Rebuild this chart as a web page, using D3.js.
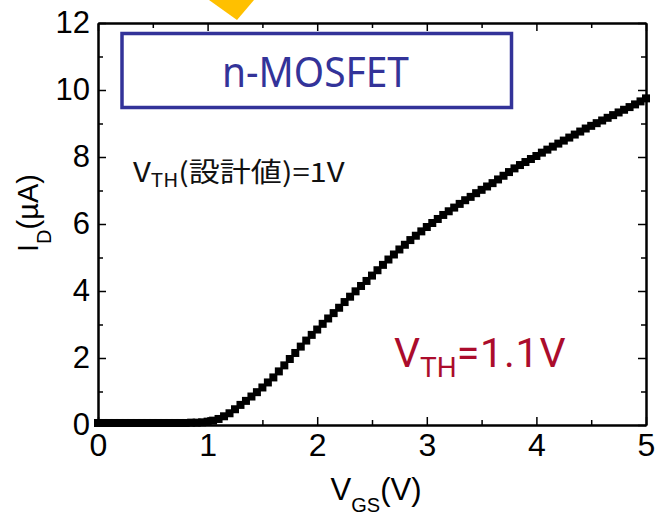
<!DOCTYPE html>
<html>
<head>
<meta charset="utf-8">
<script src="https://cdn.jsdelivr.net/npm/d3@7"></script>
<style>
  body { margin: 0; background: #fff; }
  .axis text { font-family: "Liberation Sans", Arial, sans-serif; fill: #000; }
</style>
</head>
<body>
<div id="chart"></div>
<script>
const vgs = [0.00,0.05,0.10,0.15,0.20,0.25,0.30,0.35,0.40,0.45,
             0.50,0.55,0.60,0.65,0.70,0.75,0.80,0.85,0.90,0.95,
             1.00,1.05,1.10,1.15,1.20,1.25,1.30,1.35,1.40,1.45,
             1.50,1.55,1.60,1.65,1.70,1.75,1.80,1.85,1.90,1.95,
             2.00,2.05,2.10,2.15,2.20,2.25,2.30,2.35,2.40,2.45,
             2.50,2.55,2.60,2.65,2.70,2.75,2.80,2.85,2.90,2.95,
             3.00,3.05,3.10,3.15,3.20,3.25,3.30,3.35,3.40,3.45,
             3.50,3.55,3.60,3.65,3.70,3.75,3.80,3.85,3.90,3.95,
             4.00,4.05,4.10,4.15,4.20,4.25,4.30,4.35,4.40,4.45,
             4.50,4.55,4.60,4.65,4.70,4.75,4.80,4.85,4.90,4.95,
             5.00];
const idUA = [0.06,0.06,0.06,0.06,0.06,0.06,0.06,0.06,0.06,0.06,
              0.06,0.06,0.06,0.06,0.06,0.06,0.06,0.07,0.07,0.08,
              0.10,0.13,0.18,0.26,0.35,0.47,0.60,0.72,0.85,0.98,
              1.12,1.27,1.42,1.60,1.78,1.97,2.15,2.34,2.52,2.69,
              2.85,3.02,3.18,3.34,3.50,3.67,3.83,3.99,4.15,4.30,
              4.46,4.62,4.78,4.94,5.09,5.24,5.38,5.52,5.65,5.78,
              5.91,6.03,6.15,6.27,6.38,6.49,6.60,6.71,6.81,6.92,
              7.02,7.12,7.22,7.33,7.44,7.55,7.66,7.76,7.85,7.94,
              8.03,8.13,8.22,8.31,8.40,8.49,8.58,8.67,8.76,8.85,
              8.93,9.01,9.09,9.17,9.25,9.33,9.41,9.49,9.57,9.66,
              9.75];

const xTicks = [0, 1, 2, 3, 4, 5];
const xMinor = [0.5, 1.5, 2.5, 3.5, 4.5];
const yTicks = [0, 2, 4, 6, 8, 10, 12];
const yMinor = [1, 3, 5, 7, 9, 11];

const width = 656, height = 515;
const plot = { left: 98, right: 646, top: 23, bottom: 425 };

const svg = d3.select("#chart")
    .append("svg")
    .attr("width", width)
    .attr("height", height);

const x = d3.scaleLinear().domain([0, 5]).range([plot.left, plot.right]);
const y = d3.scaleLinear().domain([0, 12]).range([plot.bottom, plot.top]);

// orange arrow tip cut off at the top (part of the surrounding slide)
svg.append("path")
    .attr("d", "M209,0 L237,20 L254,0 Z")
    .attr("fill", "#ffc000");

// axes with inward ticks on all four sides
function styleAxis(g) {
    g.attr("class", "axis");
    g.select(".domain").attr("stroke", "#000").attr("stroke-width", 2);
    g.selectAll(".tick line").attr("stroke", "#000").attr("stroke-width", 1.5);
}

svg.append("g")
    .attr("transform", `translate(0,${plot.bottom})`)
    .call(d3.axisBottom(x).tickValues(xTicks).tickFormat(d3.format("d"))
        .tickSize(-8).tickSizeOuter(0).tickPadding(8))
    .call(styleAxis)
    .call(g => g.selectAll("text").attr("font-size", 32));
svg.append("g")
    .attr("transform", `translate(0,${plot.bottom})`)
    .call(d3.axisBottom(x).tickValues(xMinor).tickSize(-5).tickSizeOuter(0).tickFormat(""))
    .call(styleAxis);
svg.append("g")
    .attr("transform", `translate(0,${plot.top})`)
    .call(d3.axisTop(x).tickValues(xTicks).tickSize(-8).tickSizeOuter(0).tickFormat(""))
    .call(styleAxis);
svg.append("g")
    .attr("transform", `translate(0,${plot.top})`)
    .call(d3.axisTop(x).tickValues(xMinor).tickSize(-5).tickSizeOuter(0).tickFormat(""))
    .call(styleAxis);

svg.append("g")
    .attr("transform", `translate(${plot.left},0)`)
    .call(d3.axisLeft(y).tickValues(yTicks).tickFormat(d3.format("d"))
        .tickSize(-8).tickSizeOuter(0).tickPadding(8))
    .call(styleAxis)
    .call(g => g.selectAll("text").attr("font-size", 31));
svg.append("g")
    .attr("transform", `translate(${plot.left},0)`)
    .call(d3.axisLeft(y).tickValues(yMinor).tickSize(-5).tickSizeOuter(0).tickFormat(""))
    .call(styleAxis);
svg.append("g")
    .attr("transform", `translate(${plot.right},0)`)
    .call(d3.axisRight(y).tickValues(yTicks).tickSize(-8).tickSizeOuter(0).tickFormat(""))
    .call(styleAxis);
svg.append("g")
    .attr("transform", `translate(${plot.right},0)`)
    .call(d3.axisRight(y).tickValues(yMinor).tickSize(-5).tickSizeOuter(0).tickFormat(""))
    .call(styleAxis);

// data markers
const pts = vgs.map((v, i) => ({ v: v, i: idUA[i] }));
const ms = 8;
svg.append("g")
    .selectAll("rect")
    .data(pts)
    .join("rect")
    .attr("x", d => x(d.v) - ms / 2)
    .attr("y", d => y(d.i) - ms / 2)
    .attr("width", ms)
    .attr("height", ms)
    .attr("fill", "#000");

// axis titles
const xt = svg.append("text")
    .attr("x", 376).attr("y", 500)
    .attr("text-anchor", "middle")
    .attr("font-family", "Liberation Sans, Arial, sans-serif")
    .attr("font-size", 31);
xt.append("tspan").text("V");
xt.append("tspan").attr("font-size", 20).attr("dy", 12).text("GS");
xt.append("tspan").attr("dy", -12).text("(V)");

const yt = svg.append("text")
    .attr("transform", "translate(38,213) rotate(-90)")
    .attr("text-anchor", "middle")
    .attr("font-family", "Liberation Sans, Arial, sans-serif")
    .attr("font-size", 29);
yt.append("tspan").text("I");
yt.append("tspan").attr("font-size", 20).attr("dy", 13).text("D");
yt.append("tspan").attr("dy", -13).text("(\u00b5A)");

// n-MOSFET box
svg.append("rect")
    .attr("x", 122).attr("y", 33.5)
    .attr("width", 389.5).attr("height", 74)
    .attr("fill", "none")
    .attr("stroke", "#333399")
    .attr("stroke-width", 3.5);
svg.append("text")
    .attr("x", 222).attr("y", 87)
    .attr("font-family", "Noto Sans, sans-serif")
    .attr("font-size", 41)
    .attr("fill", "#333399")
    .attr("textLength", 187)
    .attr("lengthAdjust", "spacingAndGlyphs")
    .text("n-MOSFET");

// design threshold note
const note = svg.append("text")
    .attr("transform", "translate(133,182) scale(1.15,1)")
    .attr("font-family", "Noto Sans CJK JP, sans-serif")
    .attr("font-size", 27)
    .attr("fill", "#111");
note.append("tspan").text("V");
note.append("tspan").attr("font-size", 18).attr("dy", 5).text("TH");
note.append("tspan").attr("dy", -5).text("(設計値)=1V");

// extracted threshold
const vth = svg.append("text")
    .attr("x", 394).attr("y", 367)
    .attr("font-family", "Roboto, sans-serif")
    .attr("font-size", 41)
    .attr("fill", "#ab0c2c");
vth.append("tspan").text("V");
vth.append("tspan").attr("font-size", 28).attr("dy", 10).text("TH");
vth.append("tspan").attr("dy", -10).attr("letter-spacing", 0.8).text("=1.1V");
</script>
</body>
</html>
